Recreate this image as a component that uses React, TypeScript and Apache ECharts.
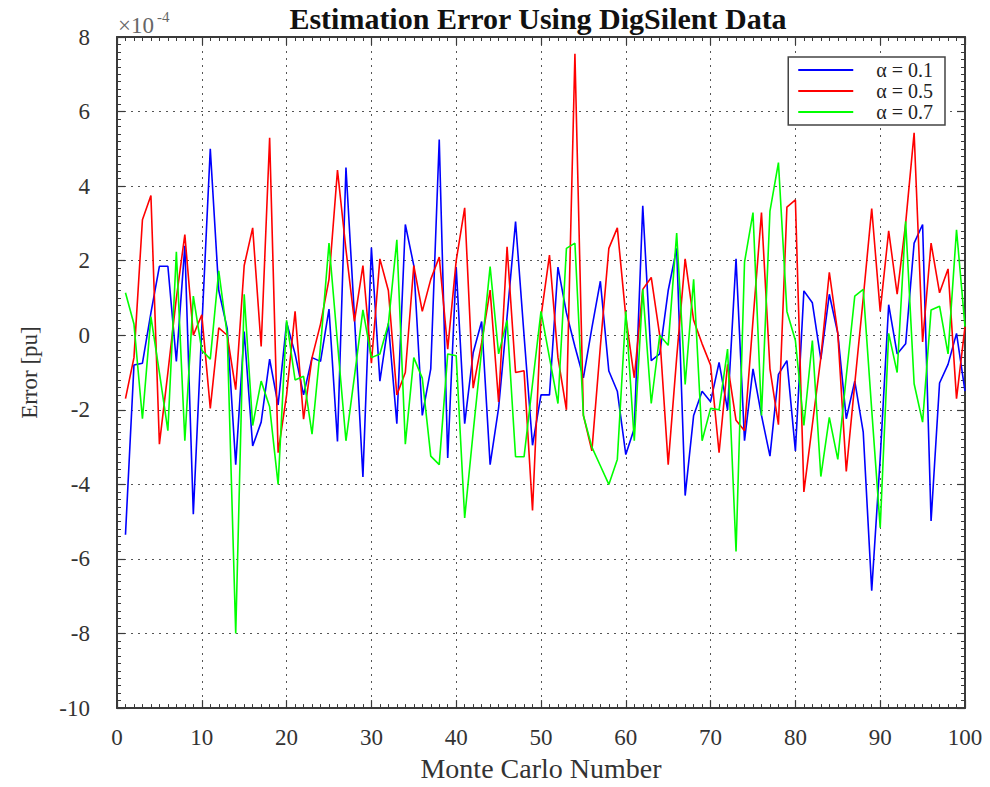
import { useEffect, useRef } from "react";
import * as echarts from "echarts";

// Monte Carlo run index (x) and the estimation error (×1e-4 pu) for each alpha
const runNumbers = Array.from({ length: 100 }, (_, i) => i + 1);

const errAlpha01 = [
  -5.35, -0.8, -0.75, 0.6, 1.85, 1.85, -0.7, 2.4, -4.8, 0.2,
  5.0, 1.2, 0.18, -3.47, 0.1, -2.97, -2.33, -0.64, -1.87, 0.35,
  -0.5, -1.6, -0.6, -0.7, 0.7, -2.85, 4.5, 0.5, -3.8, 2.35,
  -1.23, 0.32, -2.37, 2.97, 1.87, -2.15, -0.9, 5.25, -3.29, 1.83,
  -2.37, -0.47, 0.37, -3.47, -1.95, 0.5, 3.05, 0.0, -2.95, -1.6,
  -1.6, 1.83, 0.6, -0.3, -1.14, 0.2, 1.45, -0.96, -1.5, -3.2,
  -2.5, 3.47, -0.68, -0.5, 1.2, 2.33, -4.3, -2.15, -1.5, -1.78,
  -0.73, -2.0, 2.05, -2.83, -0.9, -2.15, -3.24, -1.05, -0.68, -3.1,
  1.19, 0.87, -0.64, 1.1, 0.05, -2.24, -1.23, -2.6, -6.85, -3.3,
  0.82, -0.5, -0.23, 2.47, 2.97, -4.98, -1.28, -0.78, 0.05, -1.5,
];

const errAlpha05 = [
  -1.7, -0.6, 3.1, 3.75, -2.92, -1.0, 1.0, 2.7, 0.0, 0.55,
  -1.96, 0.2, 0.0, -1.46, 1.87, 2.88, -0.3, 5.3, -3.15, -1.6,
  0.64, -2.25, -0.6, 0.3, 1.5, 4.43, 2.3, 0.37, 1.87, -0.75,
  2.05, 1.2, -1.6, -1.0, 1.87, 0.64, 1.5, 2.1, -0.37, 2.0,
  3.42, -1.42, -0.2, 1.21, -1.79, 2.37, -1.0, -0.95, -4.7, 0.5,
  2.15, -0.6, -2.0, 7.55, -2.15, -3.1, -0.3, 2.33, 2.88, 0.5,
  -1.14, 1.23, 1.55, 0.0, -3.47, -0.6, 2.05, 0.4, -0.23, -0.8,
  -3.15, -0.78, -2.28, -2.56, 0.4, 3.29, -0.9, -2.4, 3.44, 3.63,
  -4.2, -2.4, -0.6, 1.69, 0.05, -3.65, -1.3, 1.0, 3.4, 0.64,
  2.8, 1.1, 3.0, 5.43, -0.18, 2.47, 1.14, 1.78, -1.7, 0.23,
];

const errAlpha07 = [
  1.14, 0.3, -2.24, 0.5, -1.0, -2.56, 2.24, -2.83, 1.05, -0.4,
  -0.64, 1.73, 0.0, -8.0, 1.1, -2.42, -1.23, -1.92, -4.0, 0.4,
  -1.2, -1.1, -2.65, -0.3, 2.47, -0.2, -2.83, -1.1, 0.68, -0.6,
  -0.5, 0.3, 2.56, -2.92, -0.6, -1.15, -3.24, -3.47, -0.5, -0.55,
  -4.9, -2.6, -0.4, 1.84, -0.5, 0.4, -3.26, -3.26, -1.3, 0.64,
  -0.6, -1.83, 2.33, 2.47, -2.15, -3.0, -3.5, -4.0, -3.33, 0.64,
  -2.83, 1.23, -1.83, 0.0, -0.27, 2.74, -1.32, 1.5, -2.83, -1.96,
  -2.0, -0.37, -5.8, 1.96, 3.29, -2.15, 3.33, 4.63, 0.64, -0.14,
  -2.42, -0.14, -3.79, -2.2, -3.33, -1.1, 1.05, 1.23, -2.0, -5.16,
  0.05, -1.0, 3.06, -1.3, -2.33, 0.68, 0.78, -0.5, 2.83, 0.23,
];

const seriesNames = ["α = 0.1", "α = 0.5", "α = 0.7"];
const seriesColors = ["#0000ff", "#ff0000", "#00ff00"];
const seriesValues = [errAlpha01, errAlpha05, errAlpha07];

const xRange = { min: 0, max: 100, step: 10 };
const yRange = { min: -10, max: 8, step: 2 };

const SERIF = "'Liberation Serif', 'Times New Roman', serif";
const AXIS = "#3a3a3a";
const LABEL = "#333333";

function axisFrame(showLabels: boolean) {
  return {
    axisLine: { show: true, onZero: false, lineStyle: { color: AXIS, width: 2 } },
    axisTick: { show: true, inside: true, length: 8, lineStyle: { color: AXIS, width: 1.2 } },
    minorTick: { show: true, splitNumber: 10, length: 4, lineStyle: { color: AXIS, width: 1 } },
    axisLabel: showLabels
      ? { show: true, fontFamily: SERIF, fontSize: 23, color: LABEL }
      : { show: false },
  };
}

const gridDots = { show: true, lineStyle: { type: [2, 5], color: "#555", width: 1 } };

export default function App() {
  const ref = useRef<HTMLDivElement>(null);

  useEffect(() => {
    if (!ref.current) return;
    const chart = echarts.init(ref.current, null, { renderer: "svg" });

    const series = seriesNames.map((name, k) => ({
      name,
      type: "line",
      xAxisIndex: 0,
      yAxisIndex: 0,
      data: runNumbers.map((n, i) => [n, seriesValues[k][i]]),
      symbol: "none",
      showSymbol: false,
      lineStyle: { color: seriesColors[k], width: 1.6 },
      itemStyle: { color: seriesColors[k] },
      z: 3 + k,
    }));

    chart.setOption({
      animation: false,
      backgroundColor: "#ffffff",
      grid: { left: 117, right: 25, top: 37, bottom: 70, containLabel: false },
      xAxis: [
        {
          type: "value",
          position: "bottom",
          min: xRange.min,
          max: xRange.max,
          interval: xRange.step,
          name: "Monte Carlo Number",
          nameLocation: "middle",
          nameGap: 45,
          nameTextStyle: { fontFamily: SERIF, fontSize: 28, color: LABEL },
          ...axisFrame(true),
          axisLabel: { show: true, fontFamily: SERIF, fontSize: 23, color: LABEL, margin: 18 },
          splitLine: gridDots,
        },
        {
          type: "value",
          position: "top",
          min: xRange.min,
          max: xRange.max,
          interval: xRange.step,
          ...axisFrame(false),
          splitLine: { show: false },
        },
      ],
      yAxis: [
        {
          type: "value",
          position: "left",
          min: yRange.min,
          max: yRange.max,
          interval: yRange.step,
          name: "Error [pu]",
          nameLocation: "middle",
          nameGap: 76,
          nameTextStyle: { fontFamily: SERIF, fontSize: 23, color: LABEL },
          ...axisFrame(true),
          axisLabel: { show: true, fontFamily: SERIF, fontSize: 23, color: LABEL, margin: 27 },
          splitLine: gridDots,
        },
        {
          type: "value",
          position: "right",
          min: yRange.min,
          max: yRange.max,
          interval: yRange.step,
          ...axisFrame(false),
          splitLine: { show: false },
        },
      ],
      legend: {
        orient: "vertical",
        right: 45,
        top: 57,
        backgroundColor: "#ffffff",
        borderColor: "#444",
        borderWidth: 1.5,
        borderRadius: 0,
        padding: [3, 12, 3, 10],
        icon: "rect",
        itemWidth: 55,
        itemHeight: 2,
        itemGap: 1,
        data: seriesNames,
        textStyle: {
          fontFamily: SERIF,
          fontSize: 20,
          lineHeight: 20,
          color: "#222",
          padding: [0, 0, 0, 18],
        },
      },
      graphic: [
        {
          type: "text",
          x: 538,
          y: 3,
          style: {
            text: "Estimation Error Using DigSilent Data",
            fill: "#111",
            fontFamily: SERIF,
            fontSize: 30,
            fontWeight: "bold",
            align: "center",
            verticalAlign: "top",
          },
        },
        {
          type: "text",
          x: 118,
          y: 14,
          style: { text: "×10", fill: "#666", fontFamily: SERIF, fontSize: 23, verticalAlign: "top" },
        },
        {
          type: "text",
          x: 157,
          y: 9,
          style: { text: "-4", fill: "#666", fontFamily: SERIF, fontSize: 15, verticalAlign: "top" },
        },
      ],
      series,
    });

    return () => chart.dispose();
  }, []);

  return (
    <div
      ref={ref}
      style={{ position: "fixed", left: 0, top: 0, width: 990, height: 787, background: "#fff" }}
    />
  );
}
